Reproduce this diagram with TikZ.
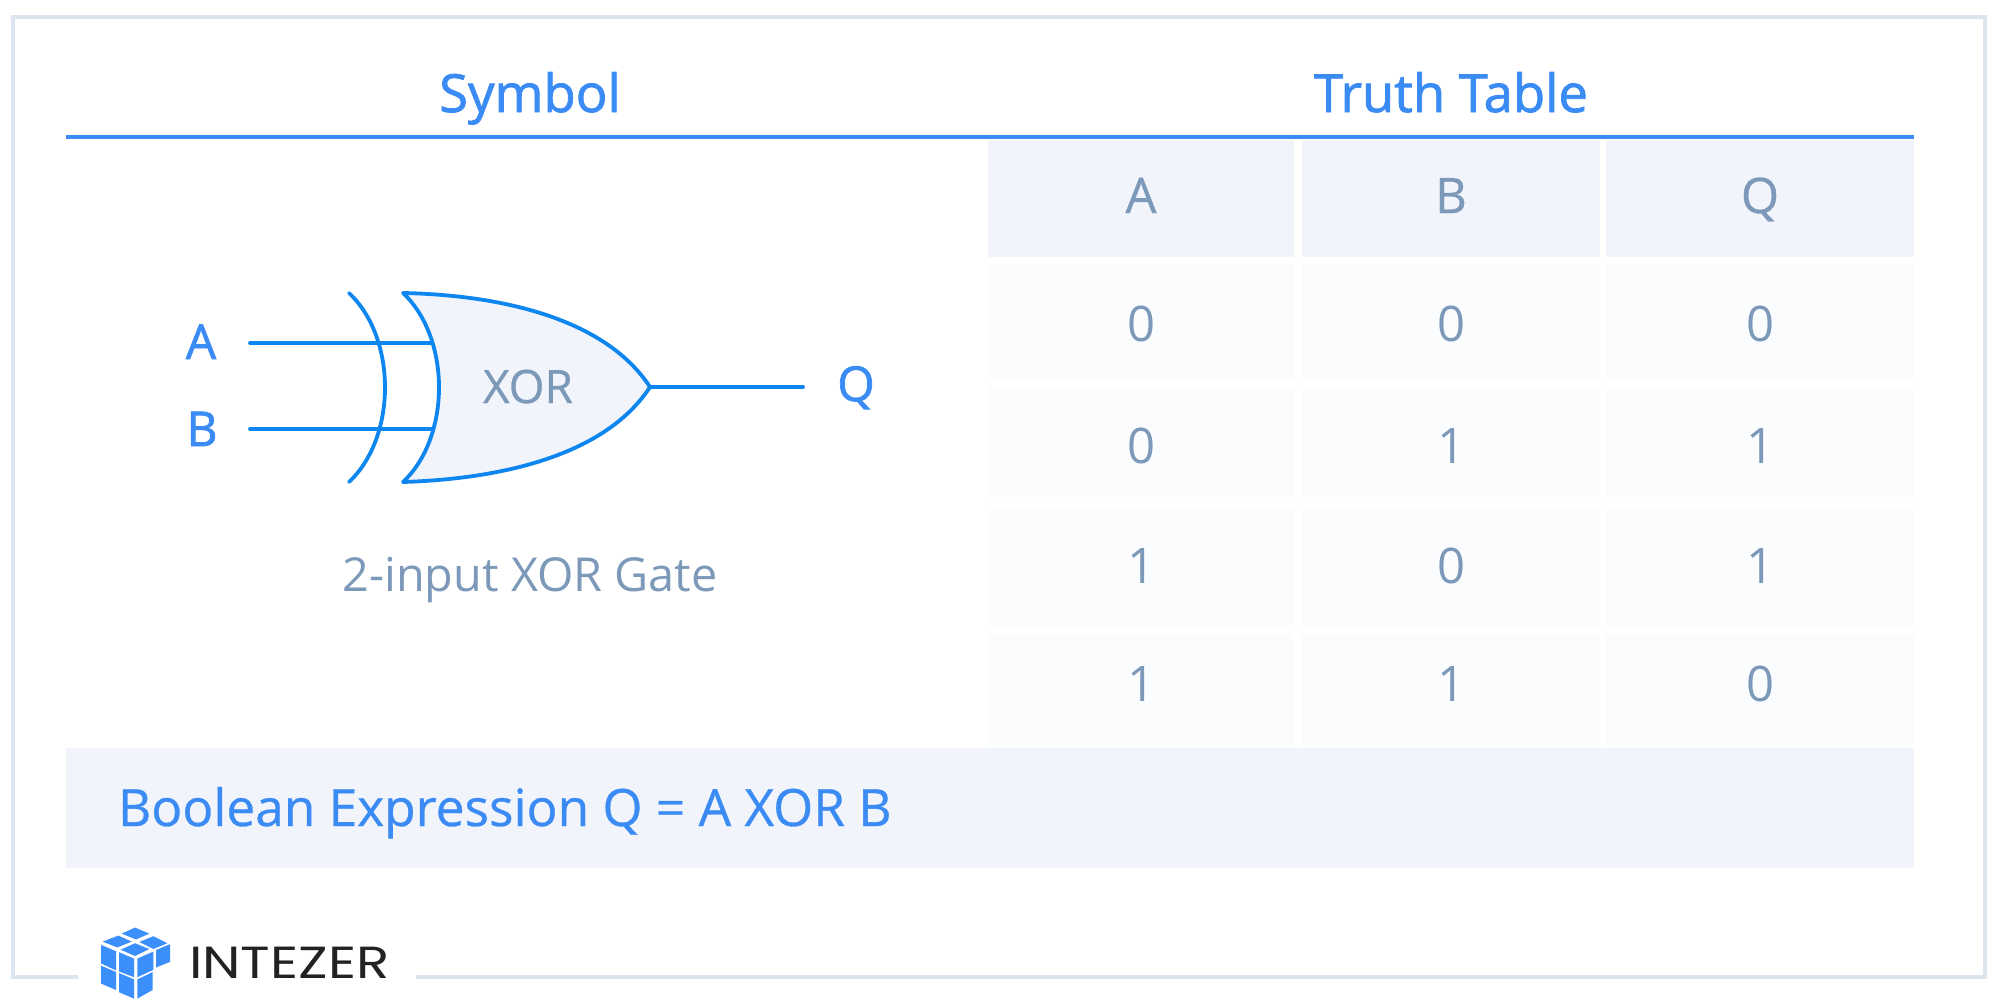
\documentclass[tikz,border=0pt]{standalone}
\usepackage{fontspec}
\setmainfont{Open Sans}
\newfontfamily\logofont[FakeStretch=1.215]{Poppins}
\newfontfamily\titlefont[FakeBold=1.5]{Open Sans}
\newfontfamily\midfont[FakeBold=0.6]{Open Sans}
\definecolor{headblue}{HTML}{3B8BF5}
\definecolor{wire}{HTML}{0E86F0}
\definecolor{slate}{HTML}{7C99BA}
\definecolor{headcell}{HTML}{F2F4FB}
\definecolor{bodycell}{HTML}{FBFCFE}
\definecolor{framec}{HTML}{DDE6F0}
\definecolor{logoblue}{HTML}{3B8FFB}
\definecolor{logotext}{HTML}{222222}
\tikzset{
  x=0.5pt,y=-0.5pt,
  textbase/.style={inner sep=0pt,outer sep=0pt,anchor=base},
  titletext/.style={textbase,text=headblue,font=\titlefont\fontsize{26.3}{26.3}\selectfont},
  celltext/.style={textbase,text=slate,font=\midfont\fontsize{24.5}{24.5}\selectfont},
  digittext/.style={textbase,text=slate,font=\fontsize{24.5}{24.5}\selectfont},
  pintext/.style={textbase,text=headblue,font=\titlefont\fontsize{24}{24}\selectfont},
  wireline/.style={draw=wire,line width=1.9pt,line cap=round},
  cube/.style={fill=logoblue,draw=none},
}
\begin{document}
\begin{tikzpicture}
\useasboundingbox (0,0) rectangle (1999,1007);
\fill[white] (0,0) rectangle (1999,1007);
% frame
\draw[framec,line width=1.6pt] (78,977) -- (13,977) -- (13,17) -- (1985,17) -- (1985,977) -- (416,977);
% header
\node[titletext] (symbol) at (530,112) {Symbol};
\node[titletext] (truth) at (1451,112) {Truth Table};
\draw[headblue,line width=1.8pt] (66,137) -- (1914,137);
% table
\foreach \xa/\xb in {988/1294,1302/1600,1606/1914}{
  \fill[headcell] (\xa,140) rectangle (\xb,257);
  \fill[bodycell] (\xa,264) rectangle (\xb,380);
  \fill[bodycell] (\xa,387) rectangle (\xb,497);
  \fill[bodycell] (\xa,508) rectangle (\xb,626);
  \fill[bodycell] (\xa,634) rectangle (\xb,746);
}
\fill[headcell] (66,748) rectangle (1914,868);
\node[celltext] (ha) at (1141,213) {A};
\node[celltext] (hb) at (1451,213) {B};
\node[celltext] (hq) at (1760,213) {Q};
\foreach \y/\p/\q/\r/\i in {341/0/0/0/1,463/0/1/1/2,583/1/0/1/3,701/1/1/0/4}{
  \node[digittext] (ra\i) at (1141,\y) {\p};
  \node[digittext] (rb\i) at (1451,\y) {\q};
  \node[digittext] (rq\i) at (1760,\y) {\r};
}
% boolean
\node[textbase,text=headblue,font=\midfont\fontsize{25.7}{25.7}\selectfont,anchor=base west] (expr) at (118,826) {Boolean Expression Q = A XOR B};
% gate
\coordinate (gtop) at (403,293);
\coordinate (gbot) at (403,482);
\coordinate (tip) at (650,387);
\coordinate (btop) at (349,293);
\coordinate (bbot) at (349,482);
\coordinate (ain) at (250,343);
\coordinate (aend) at (435,343);
\coordinate (bin) at (250,429);
\coordinate (bend) at (435,429);
\coordinate (qend) at (803,387);
\draw[wireline] (ain) -- (aend);
\draw[wireline] (bin) -- (bend);
\draw[wireline] (tip) -- (qend);
\draw[wireline] (btop) .. controls (397,338) and (397,437) .. (bbot);
\path[fill=headcell,draw=wire,line width=1.9pt,line join=round]
  (gtop) .. controls (500,295) and (605,318) .. (tip)
  .. controls (605,456) and (500,479) .. (gbot)
  .. controls (451,437) and (451,338) .. (gtop) -- cycle;
\node[pintext] (pa) at (201,359) {A};
\node[pintext] (pb) at (202,446) {B};
\node[pintext] (pq) at (856,401) {Q};
\node[textbase,text=slate,font=\midfont\fontsize{23}{23}\selectfont] (xor) at (528,403) {XOR};
\node[textbase,text=slate,font=\fontsize{23.4}{23.4}\selectfont] (cap) at (530,591) {2-input XOR Gate};
% logo
\begin{scope}[shift={(90,917)},x=0.1667pt,y=-0.16pt]
  \fill[cube] (135,33) -- (178,52) -- (138,70) -- (95,52) -- cycle;
  \fill[cube] (85,58) -- (125,77) -- (82,95) -- (38,77) -- cycle;
  \fill[cube] (190,60) -- (232,82) -- (190,100) -- (148,78) -- cycle;
  \fill[cube] (135,82) -- (178,100) -- (135,122) -- (92,102) -- cycle;
  \fill[cube] (33,87) -- (78,107) -- (78,167) -- (33,145) -- cycle;
  \fill[cube] (87,110) -- (132,130) -- (132,188) -- (87,170) -- cycle;
  \fill[cube] (142,130) -- (190,108) -- (190,165) -- (142,188) -- cycle;
  \fill[cube] (198,103) -- (240,85) -- (240,140) -- (198,158) -- cycle;
  \fill[cube] (33,152) -- (78,172) -- (78,228) -- (33,208) -- cycle;
  \fill[cube] (87,175) -- (132,195) -- (132,255) -- (87,235) -- cycle;
  \fill[cube] (142,195) -- (188,172) -- (188,228) -- (142,255) -- cycle;
\end{scope}
\node[textbase,anchor=base west,text=logotext,font=\logofont\fontsize{22.5}{22.5}\selectfont] (logo) at (189,978) {INTEZER};
\end{tikzpicture}
\end{document}
